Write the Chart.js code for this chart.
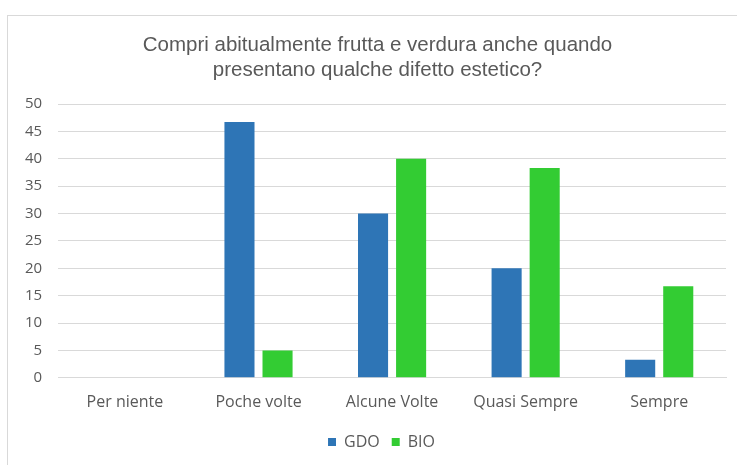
<!DOCTYPE html>
<html>
<head>
<meta charset="utf-8">
<script src="https://cdn.jsdelivr.net/npm/chart.js@4/dist/chart.umd.min.js"></script>
<style>
  html, body { margin: 0; padding: 0; background: #fff; }
  #wrap { width: 737px; height: 465px; }
</style>
</head>
<body>
<div id="wrap"><canvas id="chart" width="737" height="465"></canvas></div>
<script>
const categories = ['Per niente', 'Poche volte', 'Alcune Volte', 'Quasi Sempre', 'Sempre']
const gdoValues = [0, 46.7, 30, 20, 3.3]
const bioValues = [0, 5, 40, 38.3, 16.7]
const yTicks = [0, 5, 10, 15, 20, 25, 30, 35, 40, 45, 50]

// light frame around the chart, like the spreadsheet export
const frame = {
    id: 'frame',
    beforeDraw(chart) {
        const ctx = chart.ctx
        ctx.save()
        ctx.strokeStyle = '#d9d9d9'
        ctx.lineWidth = 1
        ctx.strokeRect(7.5, 15.5, 800, 500)
        ctx.restore()
    },
    afterLayout(chart) {
        // the original title and legend are centred on the whole frame, a bit right of the plot
        const t = chart.titleBlock
        if (t) { t.left += 10; t.right += 10 }
        const l = chart.legend
        if (l) { l.left += 14; l.right += 14; l.top += 3; l.bottom += 3 }
    }
}

const font = (size) => ({family: '"Open Sans", sans-serif', size: size})

new Chart(document.getElementById('chart'), {
    type: 'bar',
    data: {
        labels: categories,
        datasets: [
            {label: 'GDO', data: gdoValues, backgroundColor: '#2e75b6', categoryPercentage: 0.57, barPercentage: 0.79},
            {label: 'BIO', data: bioValues, backgroundColor: '#33cc33', categoryPercentage: 0.57, barPercentage: 0.79},
        ]
    },
    options: {
        responsive: false,
        animation: false,
        layout: {padding: {left: 9, right: 11, top: 33, bottom: 8}},
        plugins: {
            title: {
                display: true,
                text: ['Compri abitualmente frutta e verdura anche quando', 'presentano qualche difetto estetico?'],
                color: '#595959',
                font: {family: '"Liberation Sans", Arial, sans-serif', size: 20.5, weight: 'normal', lineHeight: 1.22},
                padding: {top: 0, bottom: 21}
            },
            legend: {
                position: 'bottom',
                labels: {
                    color: '#595959',
                    font: font(16),
                    boxWidth: 8,
                    boxHeight: 8,
                    padding: 12
                }
            },
            tooltip: {enabled: false}
        },
        scales: {
            x: {
                grid: {display: false},
                border: {color: '#d9d9d9'},
                ticks: {color: '#595959', font: font(16), padding: 7}
            },
            y: {
                min: 0,
                max: 50,
                afterBuildTicks: (axis) => { axis.ticks = yTicks.map(v => ({value: v})) },
                grid: {color: '#d9d9d9', drawTicks: false},
                border: {display: false},
                ticks: {color: '#595959', font: font(15), padding: 16}
            }
        }
    },
    plugins: [frame]
})
</script>
</body>
</html>
